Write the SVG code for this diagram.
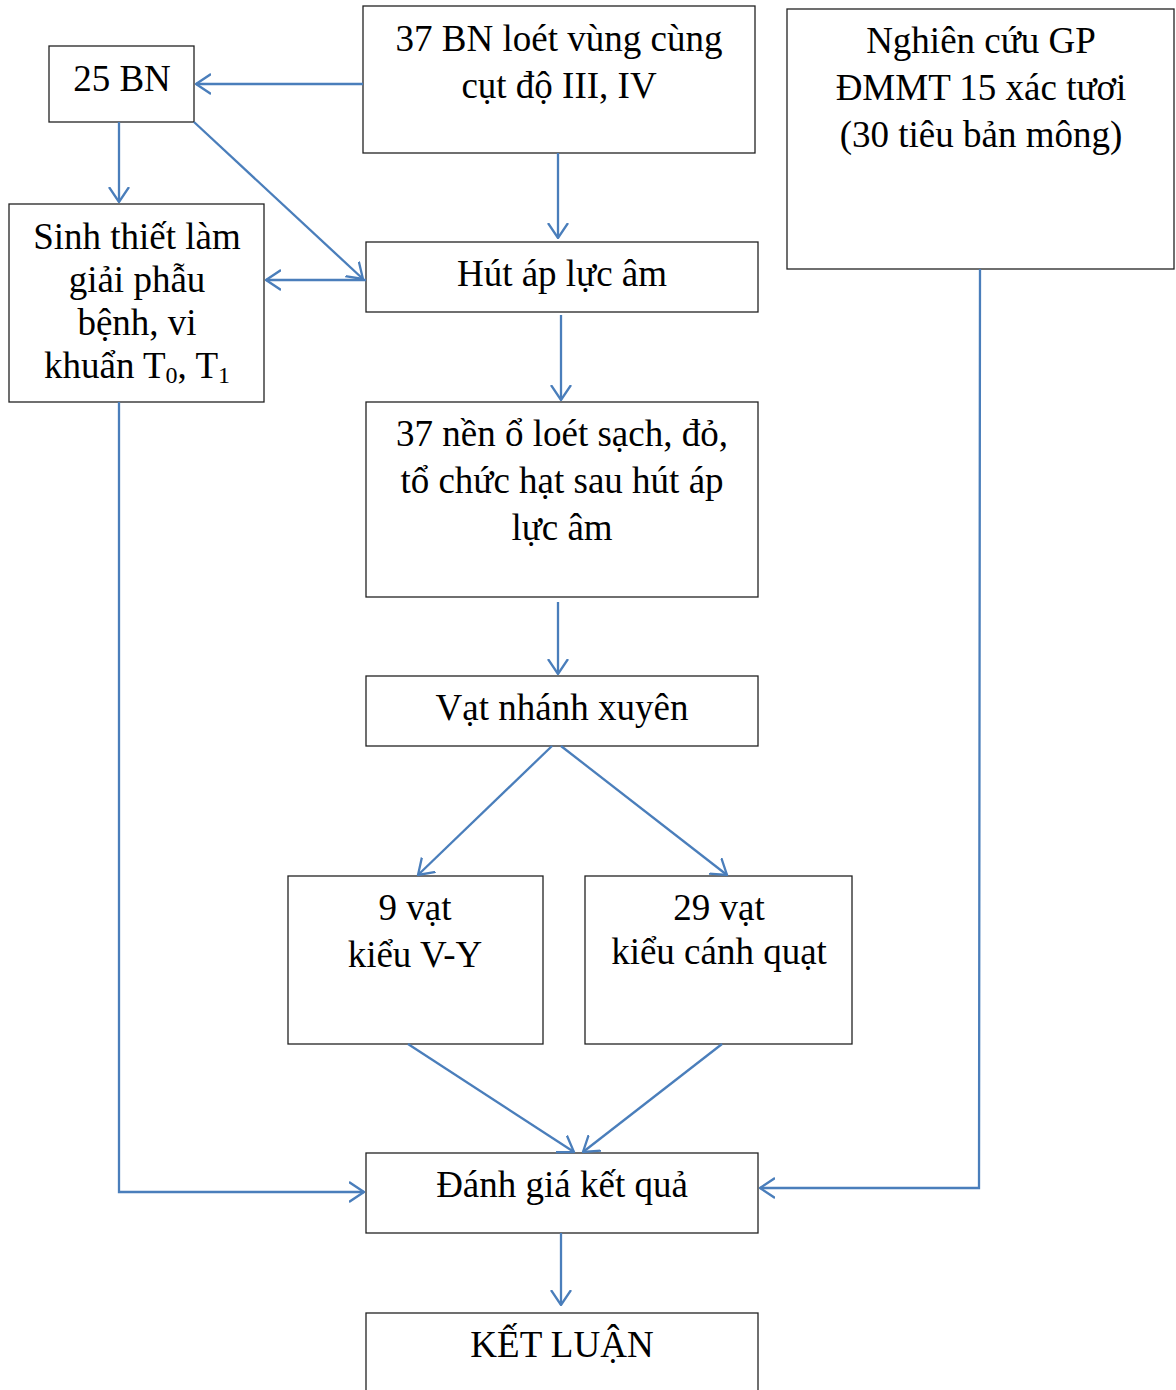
<svg xmlns="http://www.w3.org/2000/svg" width="1176" height="1390" viewBox="0 0 1176 1390">
<style>
.box{fill:#fff;stroke:#222;stroke-width:1.3}
.t{font-family:"Liberation Serif","Times New Roman",serif;font-size:37px;fill:#000;text-anchor:middle}
.c{fill:none;stroke:#4a7ebb;stroke-width:2.3}
.a{marker-end:url(#ah)}
</style>
<defs>
<marker id="ah" viewBox="0 0 16 22" refX="15" refY="11" markerWidth="16" markerHeight="22" markerUnits="userSpaceOnUse" orient="auto">
<polyline points="0,1 15,11 0,21" fill="none" stroke="#4a7ebb" stroke-width="2.3"/>
</marker>
</defs>
<rect width="1176" height="1390" fill="#fff"/>
<g id="n25bn"><rect class="box" x="49" y="46" width="145" height="76"/><text class="t" x="122" y="91">25 BN</text></g>
<g id="n37bn"><rect class="box" x="363" y="6" width="392" height="147"/><text class="t" x="559" y="51">37 BN loét vùng cùng</text><text class="t" x="559" y="98">cụt độ III, IV</text></g>
<g id="nnc"><rect class="box" x="787" y="9" width="387" height="260"/><text class="t" x="981" y="53">Nghiên cứu GP</text><text class="t" x="981" y="100">ĐMMT 15 xác tươi</text><text class="t" x="981" y="147">(30 tiêu bản mông)</text></g>
<g id="nst"><rect class="box" x="9" y="204" width="255" height="198"/><text class="t" x="137" y="249">Sinh thiết làm</text><text class="t" x="137" y="292">giải phẫu</text><text class="t" x="137" y="335">bệnh, vi</text><text class="t" x="137" y="378">khuẩn T<tspan font-size="24" dy="5">0</tspan><tspan dy="-5">, T</tspan><tspan font-size="24" dy="5">1</tspan></text></g>
<g id="nhut"><rect class="box" x="366" y="242" width="392" height="70"/><text class="t" x="562" y="286">Hút áp lực âm</text></g>
<g id="n37nen"><rect class="box" x="366" y="402" width="392" height="195"/><text class="t" x="562" y="446">37 nền ổ loét sạch, đỏ,</text><text class="t" x="562" y="493">tổ chức hạt sau hút áp</text><text class="t" x="562" y="540">lực âm</text></g>
<g id="nvat"><rect class="box" x="366" y="676" width="392" height="70"/><text class="t" x="562" y="720">Vạt nhánh xuyên</text></g>
<g id="n9vat"><rect class="box" x="288" y="876" width="255" height="168"/><text class="t" x="415" y="920">9 vạt</text><text class="t" x="415" y="967">kiểu V-Y</text></g>
<g id="n29vat"><rect class="box" x="585" y="876" width="267" height="168"/><text class="t" x="719" y="920">29 vạt</text><text class="t" x="719" y="964">kiểu cánh quạt</text></g>
<g id="ndg"><rect class="box" x="366" y="1153" width="392" height="80"/><text class="t" x="562" y="1197">Đánh giá kết quả</text></g>
<g id="nkl"><rect class="box" x="366" y="1313" width="392" height="90"/><text class="t" x="562" y="1357">KẾT LUẬN</text></g>
<g id="connectors">
<line class="c a" x1="363" y1="84" x2="196" y2="84"/>
<line class="c a" x1="119" y1="122" x2="119" y2="202"/>
<line class="c a" x1="194" y1="122" x2="363" y2="279"/>
<line class="c a" x1="366" y1="280" x2="266" y2="280"/>
<line class="c a" x1="558" y1="153" x2="558" y2="238"/>
<line class="c a" x1="561" y1="315" x2="561" y2="400"/>
<line class="c a" x1="558" y1="602" x2="558" y2="674"/>
<line class="c a" x1="552" y1="746" x2="418" y2="875"/>
<line class="c a" x1="561" y1="746" x2="727" y2="875"/>
<line class="c a" x1="408" y1="1044" x2="574" y2="1152"/>
<line class="c a" x1="722" y1="1044" x2="583" y2="1152"/>
<polyline class="c a" points="119,402 119,1192 364,1192"/>
<polyline class="c a" points="980,269 979,1188 760,1188"/>
<line class="c a" x1="561" y1="1233" x2="561" y2="1305"/>
</g>
</svg>
